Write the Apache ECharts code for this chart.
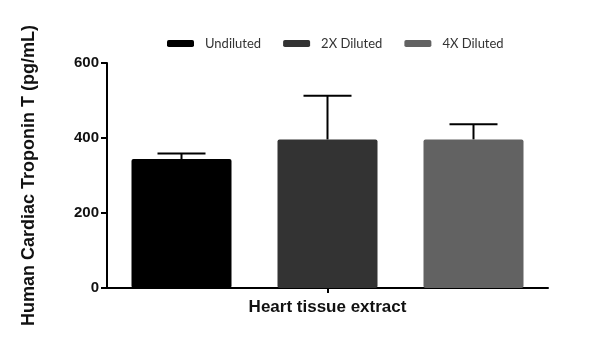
<!DOCTYPE html>
<html>
<head>
<meta charset="utf-8">
<script src="https://cdn.jsdelivr.net/npm/echarts@6/dist/echarts.min.js"></script>
<style>
  html, body { margin: 0; padding: 0; background: #fff; }
  #chart { width: 600px; height: 352px; }
</style>
</head>
<body>
<div id="chart"></div>
<script>
// 数据
var categories = ['Heart tissue extract'];
var seriesNames = ['Undiluted', '2X Diluted', '4X Diluted'];
var means = [344, 396, 396];
var errUp = [15, 117, 41];
var colors = ['#000000', '#333333', '#626262'];
var yTicks = [0, 200, 400, 600];

var barWidth = 100;
var barGapPx = 46;

var chart = echarts.init(document.getElementById('chart'));

var series = [];
seriesNames.forEach(function(name, i) {
	series.push({
		name: name,
		type: 'bar',
		barWidth: barWidth,
		barGap: (barGapPx / barWidth * 100) + '%',
		data: [means[i]],
		itemStyle: { color: colors[i], borderRadius: 2 }
	});
});

// 误差线 (只画上方)
series.push({
	type: 'custom',
	name: 'err',
	z: 1,
	data: seriesNames.map(function(n, i) { return [0, means[i], errUp[i], i]; }),
	renderItem: function(params, api) {
		var idx = api.value(3);
		var base = api.coord([api.value(0), api.value(1)]);
		var top = api.coord([api.value(0), api.value(1) + api.value(2)]);
		var x = base[0] + (idx - 1) * (barWidth + barGapPx);
		var style = { stroke: '#000', lineWidth: 2, fill: null };
		return {
			type: 'group',
			children: [
				{ type: 'line', shape: { x1: x, y1: base[1], x2: x, y2: top[1] }, style: style },
				{ type: 'line', shape: { x1: x - 24, y1: top[1], x2: x + 24, y2: top[1] }, style: style }
			]
		};
	}
});

var option = {
	animation: false,
	color: colors,
	legend: {
		data: seriesNames,
		top: 32,
		left: 162,
		itemWidth: 27,
		itemHeight: 7,
		itemGap: 22,
		icon: 'roundRect',
		textStyle: { fontFamily: 'Lato', fontSize: 13, color: '#333', padding: [0, 0, 0, 6] }
	},
	grid: { left: 107, right: 52, top: 63, bottom: 64, containLabel: false },
	xAxis: {
		type: 'category',
		data: categories,
		axisLine: { lineStyle: { color: '#000', width: 2 } },
		axisTick: { show: true, length: 5, alignWithLabel: true, lineStyle: { color: '#000', width: 2 } },
		axisLabel: { margin: 11, fontFamily: 'Liberation Sans', fontWeight: 'bold', fontSize: 17, color: '#111' }
	},
	yAxis: {
		type: 'value',
		min: yTicks[0],
		max: yTicks[yTicks.length - 1],
		interval: 200,
		name: 'Human Cardiac Troponin T (pg/mL)',
		nameLocation: 'middle',
		nameGap: 69,
		nameTextStyle: { fontFamily: 'Liberation Sans', fontWeight: 'bold', fontSize: 18, color: '#111' },
		splitLine: { show: false },
		axisLine: { show: true, lineStyle: { color: '#000', width: 2 } },
		axisTick: { show: true, length: 6, lineStyle: { color: '#000', width: 2 } },
		axisLabel: { margin: 8, fontFamily: 'Liberation Sans', fontWeight: 'bold', fontSize: 15, color: '#111' }
	},
	series: series
};
chart.setOption(option);
</script>
</body>
</html>
